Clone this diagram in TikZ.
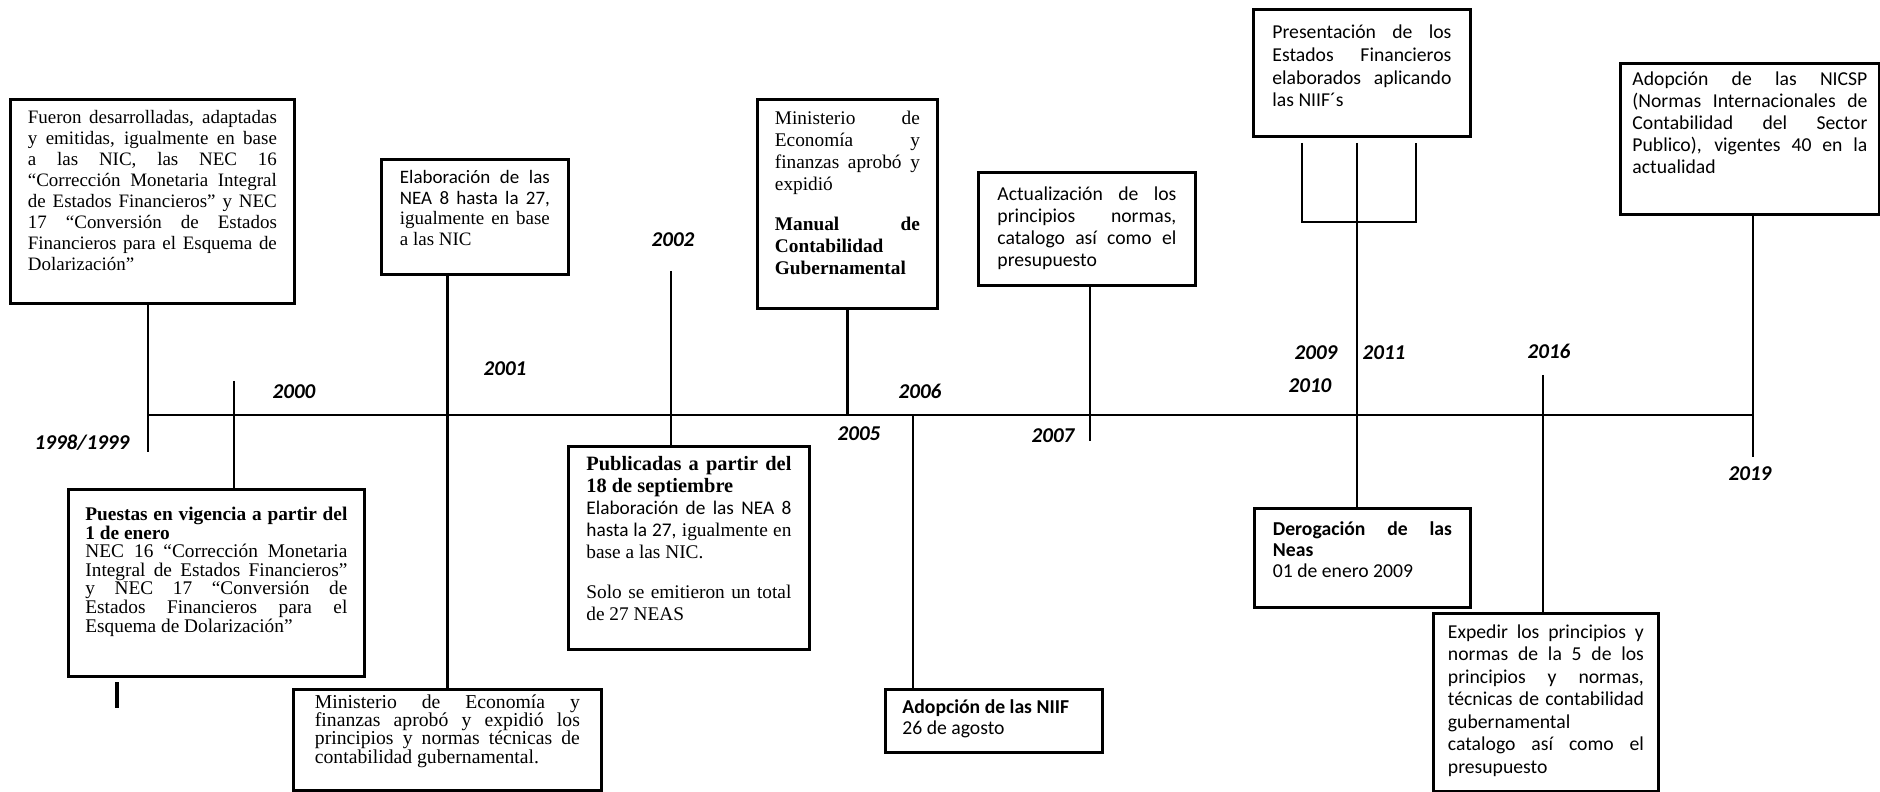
\documentclass[tikz,border=0pt]{standalone}
\usepackage{fontspec}
\setmainfont{Liberation Serif}
\setsansfont{Carlito}
\usepackage{tikz}
\hyphenpenalty=10000
\exhyphenpenalty=10000
\tikzstyle{caja}=[draw, line width=0.8pt, align=justify, inner sep=0pt, anchor=north west, font=\fontsize{5.4}{6}\selectfont]
\tikzstyle{cajasans}=[caja, font=\sffamily\fontsize{5.6}{6.3}\selectfont]
\tikzstyle{anio}=[inner sep=0pt, font=\sffamily\bfseries\itshape\fontsize{6}{7}\selectfont]
\tikzstyle{linea}=[line width=0.7pt]

\begin{document}
\begin{tikzpicture}
        \useasboundingbox (0,0) rectangle (18.8,7.91);

        %% Cajas de arriba
        \node[caja, minimum width=2.84cm, text width=2.49cm, text height=0.24cm, text depth=1.80cm, font=\fontsize{5.4}{5.97}\selectfont] (caja_1998) at (0.09,6.93) {Fueron desarrolladas, adaptadas\linebreak y emitidas, igualmente en base\linebreak a las NIC, las NEC 16\linebreak “Corrección Monetaria Integral\linebreak de Estados Financieros” y NEC\linebreak 17 “Conversión de Estados\linebreak Financieros para el Esquema de\linebreak Dolarización”};
        \node[caja, minimum width=1.87cm, text width=1.50cm, text height=0.24cm, text depth=0.91cm, font=\fontsize{5.4}{5.9}\selectfont] (caja_2001a) at (3.80,6.33) {{\sffamily Elaboración de las\linebreak NEA 8 hasta la 27,}\linebreak igualmente en base\linebreak a las NIC};
        \node[caja, minimum width=1.80cm, text width=1.45cm, text height=0.25cm, text depth=1.84cm, font=\fontsize{5.5}{6.26}\selectfont] (caja_2005) at (7.56,6.93) {Ministerio de\linebreak Economía y\linebreak finanzas aprobó y\linebreak expidió\par\vspace{0.18cm}\textbf{Manual de\linebreak Contabilidad\linebreak Gubernamental}};
        \node[cajasans, minimum width=2.17cm, text width=1.79cm, text height=0.28cm, text depth=0.85cm] (caja_2007) at (9.77,6.20) {Actualización de los\linebreak principios normas,\linebreak catalogo así como el\linebreak presupuesto};
        \node[cajasans, minimum width=2.17cm, text width=1.79cm, text height=0.29cm, text depth=0.98cm, font=\sffamily\fontsize{5.6}{6.5}\selectfont] (caja_2009) at (12.52,7.83) {Presentación de los\linebreak Estados Financieros\linebreak elaborados aplicando\linebreak las NIIF´s};
        \node[cajasans, minimum width=2.59cm, text width=2.35cm, text height=0.22cm, text depth=1.29cm] (caja_2019) at (16.19,7.29) {Adopción de las NICSP\linebreak (Normas Internacionales de\linebreak Contabilidad del Sector\linebreak Publico), vigentes 40 en la\linebreak actualidad};

        %% Cajas de abajo
        \node[caja, minimum width=2.96cm, text width=2.62cm, text height=0.31cm, text depth=1.56cm, font=\fontsize{5.5}{5.3}\selectfont] (caja_2000) at (0.67,3.03) {\textbf{Puestas en vigencia a partir del\linebreak 1 de enero}\par NEC 16 “Corrección Monetaria\linebreak Integral de Estados Financieros”\linebreak y NEC 17 “Conversión de\linebreak Estados Financieros para el\linebreak Esquema de Dolarización”};
        \node[caja, minimum width=3.08cm, text width=2.65cm, text height=0.19cm, text depth=0.82cm, font=\fontsize{5.6}{5.2}\selectfont] (caja_2001b) at (2.92,1.03) {Ministerio de Economía y\linebreak finanzas aprobó y expidió los\linebreak principios y normas técnicas de\linebreak contabilidad gubernamental.};
        \node[caja, minimum width=2.41cm, text width=2.05cm, text height=0.24cm, text depth=1.79cm, font=\fontsize{5.5}{6.26}\selectfont] (caja_2002) at (5.67,3.46) {\textbf{\fontsize{5.8}{6.4}\selectfont Publicadas a partir del\linebreak 18 de septiembre}\par {\sffamily Elaboración de las NEA 8\linebreak hasta la 27,} igualmente en\linebreak base a las NIC.\par\vspace{0.18cm}Solo se emitieron un total\linebreak de 27 NEAS};
        \node[cajasans, minimum width=2.17cm, text width=1.83cm, text height=0.24cm, text depth=0.39cm, font=\sffamily\fontsize{5.6}{6}\selectfont] (caja_2006) at (8.84,1.03) {\textbf{Adopción de las NIIF}\par 26 de agosto};
        \node[cajasans, minimum width=2.16cm, text width=1.79cm, text height=0.27cm, text depth=0.72cm, font=\sffamily\fontsize{5.6}{6}\selectfont] (caja_2010) at (12.53,2.84) {\textbf{Derogación de las\linebreak Neas}\par 01 de enero 2009};
        \node[cajasans, minimum width=2.25cm, text width=1.96cm, text height=0.25cm, text depth=1.53cm, font=\sffamily\fontsize{5.6}{6.4}\selectfont] (caja_2016) at (14.32,1.79) {Expedir los principios y\linebreak normas de la 5 de los\linebreak principios y normas,\linebreak técnicas de contabilidad\linebreak gubernamental\linebreak catalogo así como el\linebreak presupuesto};

        %% Años
        \node[anio] (a_1998) at (0.82,3.48) {1998/1999};
        \node[anio] (a_2000) at (2.94,3.99) {2000};
        \node[anio] (a_2001) at (5.05,4.22) {2001};
        \node[anio] (a_2002) at (6.73,5.51) {2002};
        \node[anio] (a_2005) at (8.59,3.57) {2005};
        \node[anio] (a_2006) at (9.20,4.00) {2006};
        \node[anio] (a_2007) at (10.53,3.55) {2007};
        \node[anio] (a_2009) at (13.16,4.38) {2009};
        \node[anio] (a_2011) at (13.84,4.38) {2011};
        \node[anio] (a_2010) at (13.10,4.05) {2010};
        \node[anio] (a_2016) at (15.49,4.40) {2016};
        \node[anio] (a_2019) at (17.50,3.17) {2019};

        %% Eje y líneas
        % Puntos
        \coordinate (ejeI) at (1.48,3.76);
        \coordinate (ejeF) at (17.53,3.76);
        \coordinate (p1998) at (1.48,3.39);
        \coordinate (p2000) at (2.34,4.10);
        \coordinate (p2002) at (6.71,5.20);
        \coordinate (p2006) at (9.13,3.76);
        \coordinate (p2007) at (10.90,3.50);
        \coordinate (p2009) at (13.02,6.48);
        \coordinate (p2010) at (13.57,6.48);
        \coordinate (p2011) at (14.16,6.48);
        \coordinate (barra) at (13.57,5.69);
        \coordinate (p2016) at (15.43,4.16);
        \coordinate (p2019) at (17.53,3.34);
        \coordinate (marca1) at (1.17,1.09);
        \coordinate (marca2) at (1.17,0.83);
        % Líneas
        \draw[linea] (ejeI) -- (ejeF);
        \draw[linea] (caja_1998.south -| p1998) -- (p1998);
        \draw[linea] (p2000) -- (p2000 |- caja_2000.north);
        \draw[linea] (caja_2001a.south -| caja_2001b.north) -- (caja_2001b.north);
        \draw[linea] (p2002) -- (p2002 |- caja_2002.north);
        \draw[linea] (caja_2005.south) -- (caja_2005.south |- ejeI);
        \draw[linea] (p2006) -- (p2006 |- caja_2006.north);
        \draw[linea] (caja_2007.south -| p2007) -- (p2007);
        \draw[linea] (p2009) |- (barra) -| (p2011);
        \draw[linea] (p2010) -- (p2010 |- caja_2010.north);
        \draw[linea] (p2016) -- (p2016 |- caja_2016.north);
        \draw[linea] (caja_2019.south -| p2019) -- (p2019);
        \draw[line width=1.2pt] (marca1) -- (marca2);
\end{tikzpicture}
\end{document}
